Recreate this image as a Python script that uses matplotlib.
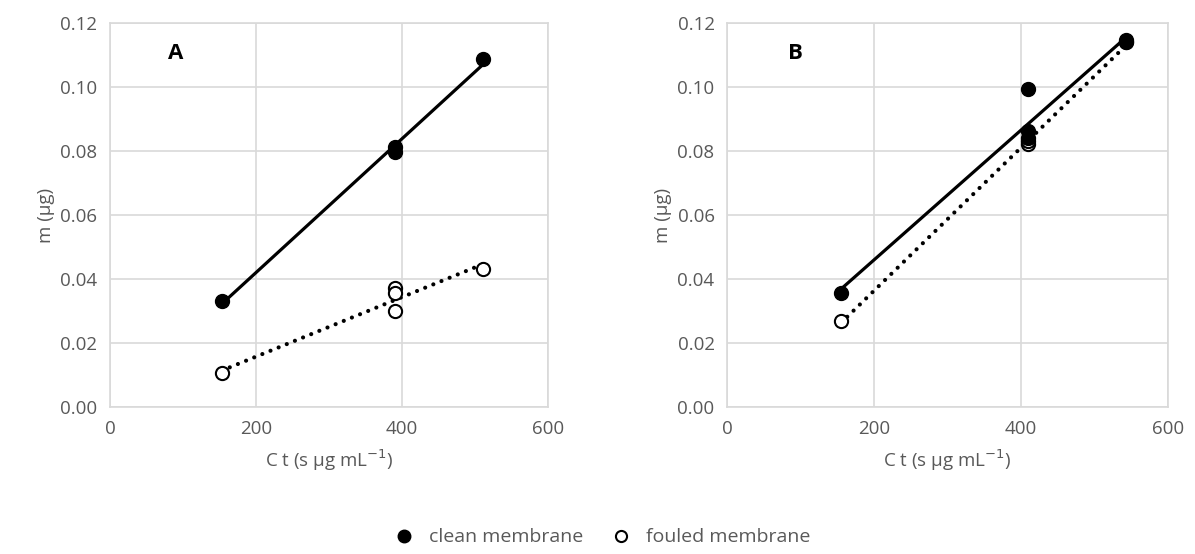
import numpy as np
import matplotlib
matplotlib.use("Agg")
import matplotlib.pyplot as plt
from matplotlib.lines import Line2D

plt.rcParams['font.family'] = ['Open Sans', 'DejaVu Sans']

# panel A
a_clean_x = [153, 390, 390, 511]
a_clean_y = [0.0331, 0.0813, 0.0797, 0.1088]
a_foul_x = [153, 390, 390, 390, 511]
a_foul_y = [0.0106, 0.0372, 0.0356, 0.0300, 0.0431]

# panel B
b_clean_x = [155, 410, 410, 410, 543, 543]
b_clean_y = [0.0356, 0.0995, 0.0862, 0.0840, 0.1147, 0.1140]
b_foul_x = [155, 410, 410, 543]
b_foul_y = [0.0268, 0.0822, 0.0832, 0.1140]

panels = [
    ("A", a_clean_x, a_clean_y, a_foul_x, a_foul_y),
    ("B", b_clean_x, b_clean_y, b_foul_x, b_foul_y),
]

grey = '#595959'
fig = plt.figure(figsize=(11.95, 5.54), dpi=100)
rects = [[0.092, 0.265, 0.3665, 0.693], [0.6084, 0.265, 0.369, 0.693]]

for rect, (lab, cx, cy, fx, fy) in zip(rects, panels):
    ax = fig.add_axes(rect)
    # linear trendlines
    k, b = np.polyfit(cx, cy, 1)
    xl = np.array([min(cx), max(cx)])
    ax.plot(xl, k * xl + b, color='black', lw=2.3, solid_capstyle='butt', zorder=3)
    k, b = np.polyfit(fx, fy, 1)
    xl = np.array([min(fx), max(fx)])
    ax.plot(xl, k * xl + b, color='black', lw=3, ls=(0, (0.01, 2.1)),
            dash_capstyle='round', zorder=3)
    ax.plot(fx, fy, 'o', ms=9.5, mfc='white', mec='black', mew=1.5, zorder=4)
    ax.plot(cx, cy, 'o', ms=10, mfc='black', mec='black', zorder=5)
    ax.set_xlim(0, 600)
    ax.set_ylim(0, 0.12)
    ax.set_xticks([0, 200, 400, 600])
    ax.set_yticks(np.arange(0, 0.121, 0.02))
    ax.yaxis.set_major_formatter(matplotlib.ticker.FormatStrFormatter('%.2f'))
    ax.grid(True, color='#d9d9d9', lw=1.2)
    ax.set_axisbelow(True)
    for s in ax.spines.values():
        s.set_color('#d9d9d9')
        s.set_linewidth(1.2)
    ax.tick_params(length=0, labelsize=13.5, colors=grey)
    ax.tick_params(axis='x', pad=9)
    ax.tick_params(axis='y', pad=9)
    ax.set_xlabel('C t (s µg mL$^{-1}$)', fontsize=13.5, color=grey, labelpad=7)
    ax.set_ylabel('m (µg)', fontsize=13.5, color=grey, labelpad=4)
    ax.text(0.15 if lab == 'A' else 0.155, 0.92, lab, transform=ax.transAxes,
            fontsize=16, fontweight='bold', color='black', ha='center', va='center')

handles = [
    Line2D([], [], ls='none', marker='o', ms=9, mfc='black', mec='black'),
    Line2D([], [], ls='none', marker='o', ms=8, mfc='white', mec='black', mew=1.5),
]
fig.legend(handles, ['clean membrane', 'fouled membrane'], loc='center',
           bbox_to_anchor=(0.5, 0.03), ncol=2, frameon=False, fontsize=14,
           labelcolor=grey, handletextpad=0.3, columnspacing=0.9)

fig.savefig('out.png', dpi=100)
